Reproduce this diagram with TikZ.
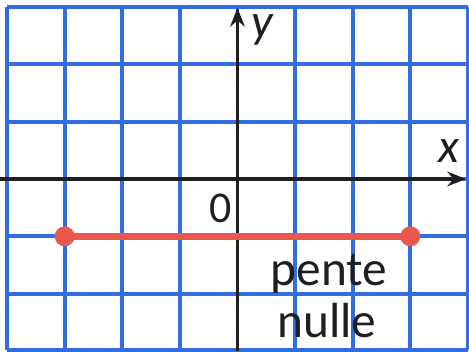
\documentclass[tikz,border=0pt]{standalone}
\usepackage{fontspec}
\setmainfont{Carlito}
\usetikzlibrary{arrows.meta}
\definecolor{gridblue}{RGB}{50,110,225}
\definecolor{segred}{RGB}{232,88,78}
\definecolor{axisblack}{RGB}{30,30,35}
\begin{document}
\begin{tikzpicture}[x=43.2pt,y=43.05pt,
  gridline/.style={draw=gridblue,line width=2.9pt},
  axisline/.style={draw=axisblack,line width=2.9pt,-{Stealth[length=14pt,width=11pt]}},
  seg/.style={draw=segred,line width=5pt},
  enddot/.style={circle,fill=segred,inner sep=0pt,minimum size=15pt},
  lbl/.style={anchor=base,inner sep=0pt,text=axisblack}]
\useasboundingbox (-4.123,-2.997) rectangle (4.019,3.118);
\fill[white] (-4.123,-2.997) rectangle (4.019,3.118);
% grid
\foreach \i in {-4,...,4} \draw[gridline] (\i,-2.98) -- (\i,3);
\foreach \j in {-2,...,3} \draw[gridline] (-4,\j) -- (4,\j);
\draw[gridline] (-4,-2.98) -- (4,-2.98);
% axes
\coordinate (xs) at (-4.123,0);
\coordinate (xe) at (3.967,0);
\coordinate (ys) at (0,-3);
\coordinate (ye) at (0,2.98);
\draw[axisline] (xs) -- (xe);
\draw[axisline] (ys) -- (ye);
% segment
\node[enddot] (a) at (-3,-1) {};
\node[enddot] (b) at (3,-1) {};
\draw[seg] (a.center) -- (b.center);
% labels
\node[lbl,font=\fontsize{36pt}{40pt}\selectfont\itshape] (ly) at (0.43,2.47) {y};
\node[lbl,font=\fontsize{36pt}{40pt}\selectfont\itshape] (lx) at (3.67,0.28) {x};
\node[lbl,font=\fontsize{33pt}{36pt}\selectfont] (l0) at (-0.29,-0.75) {0};
\node[lbl,font=\fontsize{37pt}{40pt}\selectfont] (p) at (1.59,-1.864) {pente};
\node[lbl,font=\fontsize{37pt}{40pt}\selectfont] (n) at (1.55,-2.77) {nulle};
\end{tikzpicture}
\end{document}
